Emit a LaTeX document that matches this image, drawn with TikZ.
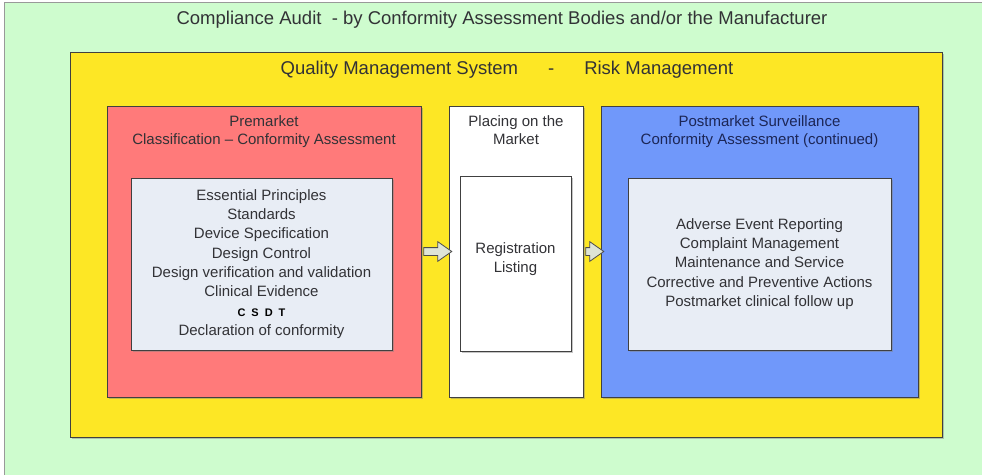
\documentclass[tikz,border=0pt]{standalone}
\usepackage{fontspec}
\setmainfont{Liberation Sans}
\usetikzlibrary{positioning,shapes.arrows,shadows}
\definecolor{auditgreen}{RGB}{206,252,206}
\definecolor{qmsyellow}{RGB}{253,231,37}
\definecolor{premred}{RGB}{255,122,122}
\definecolor{postblue}{RGB}{112,152,250}
\definecolor{innergrey}{RGB}{232,237,245}
\definecolor{textgrey}{RGB}{50,50,54}
\definecolor{navy}{RGB}{28,38,86}
\definecolor{arrowgrey}{RGB}{222,228,214}
\tikzset{
    panel/.style={
        draw=black!75, line width=1pt,
        drop shadow={shadow xshift=1.5pt, shadow yshift=-1.5pt, opacity=0.45}
    },
    innerbox/.style={
        panel, fill=innergrey, text=textgrey, align=center,
        font=\fontsize{15}{19.3}\selectfont
    },
    boxtitle/.style={
        align=center, inner sep=0pt, text=textgrey,
        font=\fontsize{15}{18}\selectfont
    },
    flow/.style={
        single arrow, draw=black!70, fill=arrowgrey, line width=0.8pt,
        inner xsep=0pt, inner ysep=3.5pt, single arrow head extend=6pt,
        single arrow tip angle=70, minimum height=#1
    }
}

\begin{document}
\begin{tikzpicture}[x=1pt,y=-1pt]
\useasboundingbox (0,0) rectangle (982,474);
\fill[white] (0,0) rectangle (982,474);
\draw[fill=auditgreen, draw=black!40] (4,2) rectangle (990,480);
\node[text=textgrey, font=\fontsize{18.5}{22}\selectfont] (audit) at (502,20)
    {Compliance Audit\ \ - by Conformity Assessment Bodies and/or the Manufacturer};
% quality management system
\node[panel, fill=qmsyellow, minimum width=872pt, minimum height=385pt] (qms) at (506,244.5) {};
\node[text=textgrey, font=\fontsize{18.5}{22}\selectfont] (qmstitle) at (507,70)
    {Quality Management System\hspace{30pt}-\hspace{30pt}Risk Management};
% the three stages
\node[panel, fill=premred, minimum width=314pt, minimum height=291pt] (pre) at (264,251.5) {};
\node[panel, fill=white, minimum width=134pt, minimum height=291pt] (place) at (516,251.5) {};
\node[panel, fill=postblue, minimum width=317pt, minimum height=291pt] (post) at (759.5,251.5) {};
\node[boxtitle, below=9.5pt of pre.north] (pretitle) {Premarket\\Classification -- Conformity Assessment};
\node[boxtitle, below=9.5pt of place.north] (placetitle) {Placing on the\\Market};
\node[boxtitle, text=navy, below=9.5pt of post.north] (posttitle) {Postmarket Surveillance\\Conformity Assessment (continued)};
\node[innerbox, minimum width=261pt, minimum height=172pt] (preitems) at (261.5,264) {Essential Principles\\Standards\\Device Specification\\Design Control\\Design verification and validation\\Clinical Evidence\\{\color{black}\bfseries\fontsize{11}{19.3}\selectfont C\hspace{6pt}S\hspace{6pt}D\hspace{6pt}T}\\Declaration of conformity};
\node[innerbox, fill=white, minimum width=111pt, minimum height=175pt] (placeitems) at (515.5,263.5) {Registration\\Listing\\[-7pt]};
\node[innerbox, minimum width=263pt, minimum height=172pt] (postitems) at (759.5,264) {Adverse Event Reporting\\Complaint Management\\Maintenance and Service\\Corrective and Preventive Actions\\Postmarket clinical follow up};
% block arrows between stages
\path (pre) -- (place) node[midway, flow=28pt] (toplace) {};
\path (place) -- (post) node[midway, flow=18pt] (topost) {};
\end{tikzpicture}
\end{document}
